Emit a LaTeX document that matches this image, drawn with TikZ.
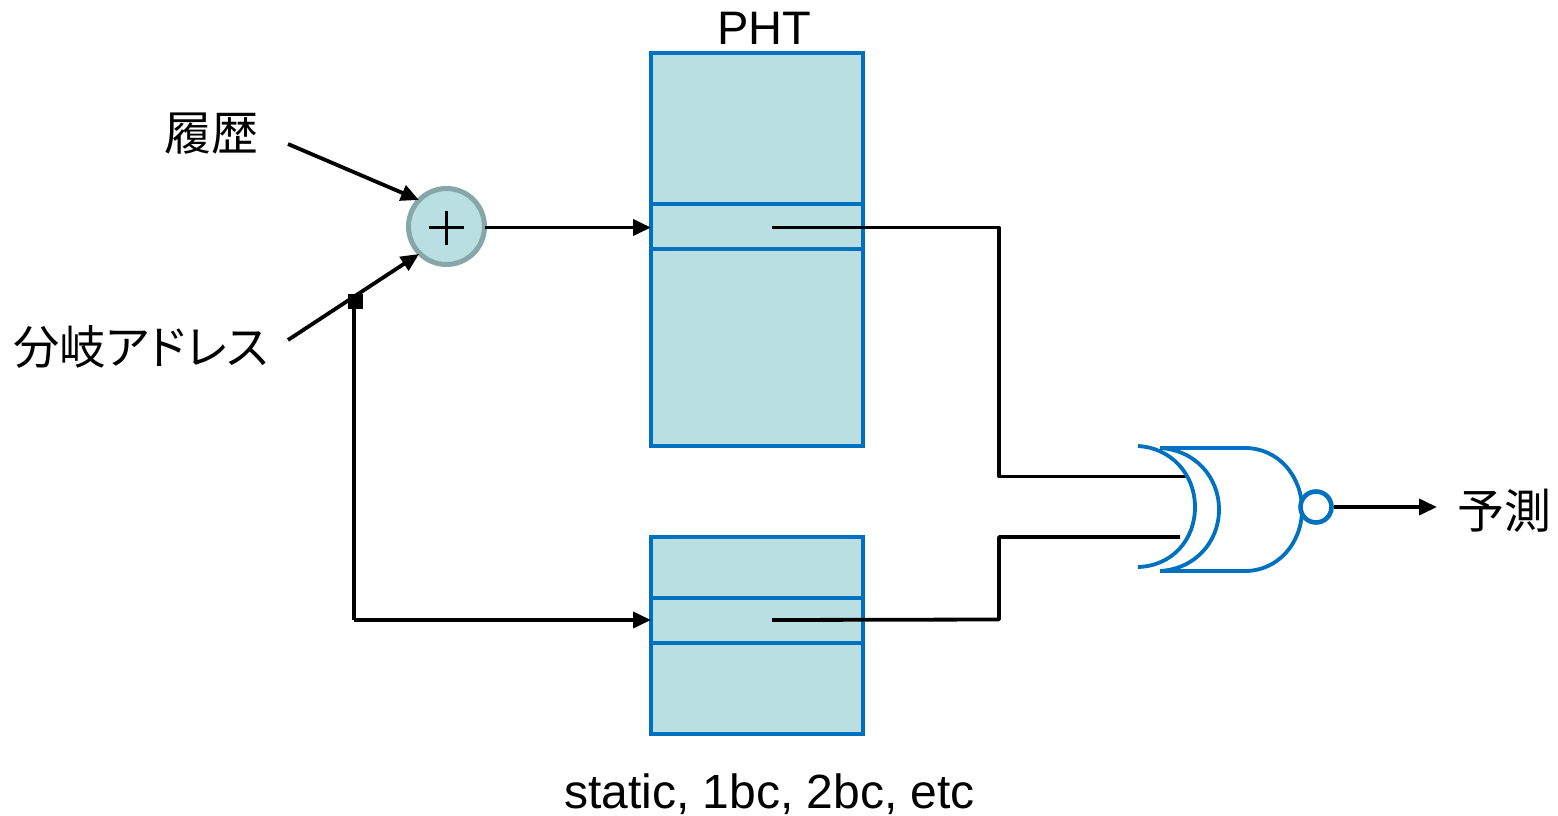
\documentclass[tikz,border=0pt]{standalone}
\usepackage{fontspec}
\setmainfont{Liberation Sans}
\newfontfamily\cjk[RawFeature=+palt]{Noto Sans CJK JP}
\usetikzlibrary{arrows.meta}
\definecolor{fillb}{HTML}{B9DFE2}
\definecolor{edgeb}{HTML}{0070C0}
\definecolor{edgeg}{HTML}{86A6A8}
\tikzset{
 x=1pt,y=-1pt,
 tbl/.style={draw=edgeb,fill=fillb,line width=4.6pt,inner sep=0pt,minimum width=212pt,anchor=north west},
 wire/.style={draw=black,line width=3.8pt},
 arr/.style={wire,-{Triangle[length=18pt,width=16pt]}},
 gate/.style={draw=edgeb,line width=3.8pt},
 lbl/.style={font=\fontsize{47}{50}\selectfont,inner sep=0pt,text=black},
 jlbl/.style={font=\cjk\fontsize{47}{50}\selectfont,inner sep=0pt,text=black},
}
\begin{document}
\begin{tikzpicture}
\useasboundingbox (0,0) rectangle (1558,816);
% tables
\node[tbl,minimum height=393pt] (pht) at (648.7,50.7) {};
\node[tbl,minimum height=45pt] (phtrow) at (648.7,201.7) {};
\node[tbl,minimum height=197pt] (bim) at (648.7,534.7) {};
\node[tbl,minimum height=45pt] (bimrow) at (648.7,595.7) {};
\coordinate (phtout) at (772,227.5);
\coordinate (bimout) at (772,620);
% labels
\node[lbl] (title) at (764,28.5) {PHT};
\node[lbl,font=\fontsize{48}{50}\selectfont] (note) at (769.5,794.5) {static, 1bc, 2bc, etc};
\node[jlbl] (hist) at (211.5,134) {履歴};
\node[jlbl,font=\cjk\fontsize{46.3}{50}\selectfont] (addr) at (141,347) {分岐アドレス};
\node[jlbl] (pred) at (1504,511) {予測};
% adder
\node[circle,draw=edgeg,fill=fillb,line width=5pt,minimum size=76pt,inner sep=0pt] (add) at (446.5,226.5) {};
\coordinate (plusL) at (429,227.5);
\coordinate (plusR) at (464,227.5);
\coordinate (plusT) at (446.5,210.5);
\coordinate (plusB) at (446.5,245);
\draw[wire] (plusL) -- (plusR);
\draw[wire] (plusT) -- (plusB);
% coordinates for free wire ends
\coordinate (histS) at (288,144);
\coordinate (histE) at (419,200);
\coordinate (addrS) at (288,340);
\coordinate (addrE) at (419,254);
\coordinate (tap) at (354,301);
\coordinate (corner) at (354,620);
\coordinate (addO) at (485,227.5);
\coordinate (phtIn) at (651,227.5);
\coordinate (bimIn) at (651,620);
\draw[arr] (histS) -- (histE);
\draw[arr] (addrS) -- (addrE);
\draw[arr] (addO) -- (phtIn);
\draw[wire] (tap) -- (corner);
\draw[arr] (corner) -- (bimIn);
\node[fill=black,minimum size=15pt,inner sep=0pt] (dot) at (355,301) {};
% gate
\coordinate (g1) at (999,227.5);
\coordinate (g2) at (999,476.5);
\coordinate (g3) at (1187,476.5);
\coordinate (h1) at (999,619.5);
\coordinate (h2) at (999,537);
\coordinate (h3) at (1180,537);
\draw[wire,line join=round] (phtout) -- (g1) -- (g2) -- (g3);
\draw[wire,line join=round] (bimout) -- (h1) -- (h2) -- (h3);
\draw[gate] (1138,446) .. controls (1172,448) and (1195,475) .. (1195,507) .. controls (1195,540) and (1172,566) .. (1138,567);
\draw[gate] (1160,448) -- (1245,448) .. controls (1278,448) and (1302,476) .. (1302,509.5) .. controls (1302,543) and (1278,571) .. (1245,571) -- (1160,571);
\draw[gate] (1160,448) .. controls (1195,450) and (1219,477) .. (1219,509.5) .. controls (1219,542) and (1195,569) .. (1160,571);
\node[circle,draw=edgeb,fill=white,line width=4.6pt,minimum size=31pt,inner sep=0pt] (bub) at (1316,507) {};
\coordinate (predE) at (1437,507);
\draw[arr] (bub.east) -- (predE);
\end{tikzpicture}
\end{document}
